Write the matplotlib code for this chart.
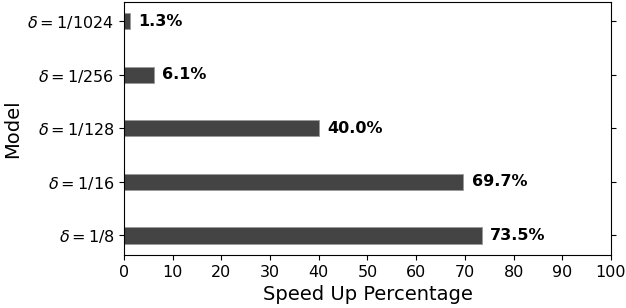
import numpy as np
import matplotlib.pyplot as plt

models = [r'$\delta=1/8$', r'$\delta=1/16$', r'$\delta=1/128$', r'$\delta=1/256$', r'$\delta=1/1024$']
speedup = [73.5, 69.7, 40.0, 6.1, 1.3]

fig = plt.figure(figsize=(6.26, 3.08), dpi=100)
ax = fig.add_axes([0.198, 0.172, 0.778, 0.822])

y = np.arange(len(models))
ax.barh(y, speedup, height=0.3, color='#444444', edgecolor='#999999', linewidth=0.6)

for yi, v in zip(y, speedup):
    ax.annotate('%.1f%%' % v, (v, yi), xytext=(6, 0), textcoords='offset points',
                va='center', ha='left', fontsize=11.5, fontweight='bold')

ax.set_yticks(y)
ax.set_yticklabels(models, fontsize=11.5)
ax.set_xlim(0, 100)
ax.set_xticks(np.arange(0, 101, 10))
ax.tick_params(axis='x', labelsize=11.5)
ax.tick_params(axis='y', right=True)
ax.set_xlabel('Speed Up Percentage', fontsize=14)
ax.set_ylabel('Model', fontsize=14)

fig.savefig('out.png', dpi=100)
